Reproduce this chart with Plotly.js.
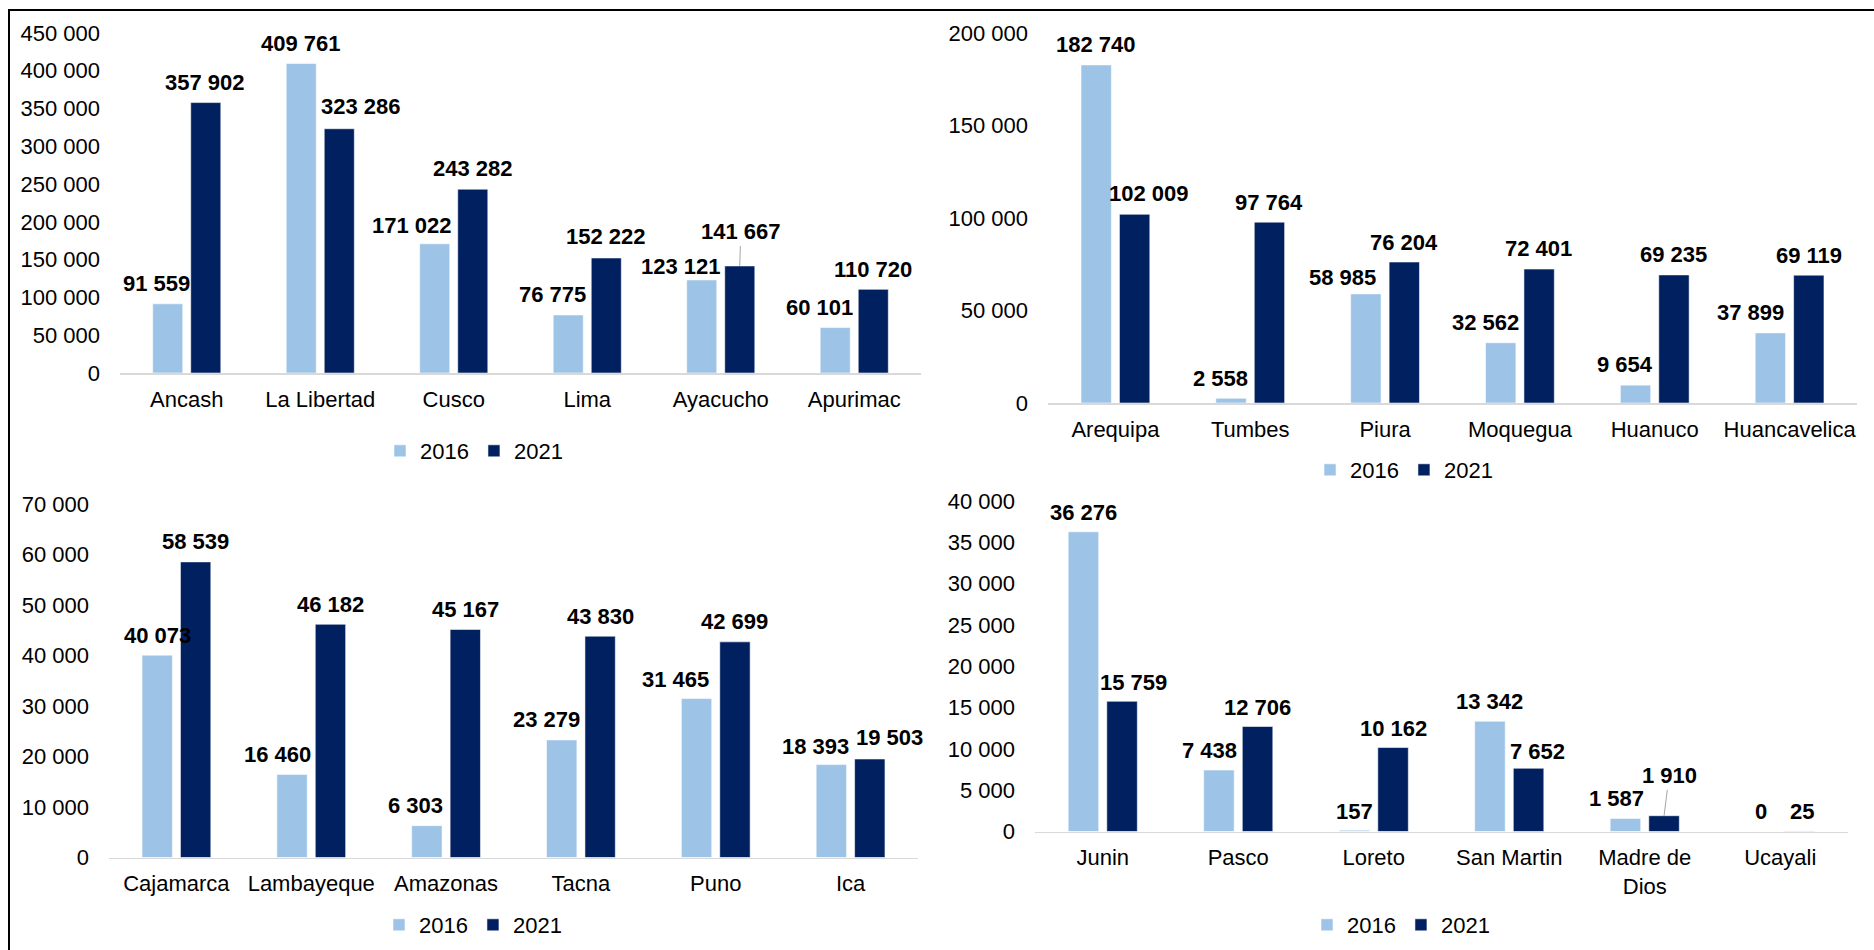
<!DOCTYPE html>
<html>
<head>
<meta charset="utf-8">
<script src="https://cdn.plot.ly/plotly-3.0.1.min.js"></script>
<style>
  html, body { margin: 0; padding: 0; background: #ffffff; }
  #chart { width: 1874px; height: 950px; }
</style>
</head>
<body>
<div id="chart"></div>
<script>
// Departments and values per panel (2016 vs 2021)
const regionsA = ['Ancash', 'La Libertad', 'Cusco', 'Lima', 'Ayacucho', 'Apurimac'];
const valuesA2016 = [91559, 409761, 171022, 76775, 123121, 60101];
const valuesA2021 = [357902, 323286, 243282, 152222, 141667, 110720];

const regionsB = ['Arequipa', 'Tumbes', 'Piura', 'Moquegua', 'Huanuco', 'Huancavelica'];
const valuesB2016 = [182740, 2558, 58985, 32562, 9654, 37899];
const valuesB2021 = [102009, 97764, 76204, 72401, 69235, 69119];

const regionsC = ['Cajamarca', 'Lambayeque', 'Amazonas', 'Tacna', 'Puno', 'Ica'];
const valuesC2016 = [40073, 16460, 6303, 23279, 31465, 18393];
const valuesC2021 = [58539, 46182, 45167, 43830, 42699, 19503];

const regionsD = ['Junin', 'Pasco', 'Loreto', 'San Martin', 'Madre de<br>Dios', 'Ucayali'];
const valuesD2016 = [36276, 7438, 157, 13342, 1587, 0];
const valuesD2021 = [15759, 12706, 10162, 7652, 1910, 25];

const seriesNames = ['2016', '2021'];

// Styling
const W = 1874, H = 950;
const COLOR_2016 = '#9DC3E6';
const COLOR_2021 = '#002060';
const FONT = 'Arial, "Liberation Sans", sans-serif';
const BAR_GAP = 0.43, GROUP_GAP = 0.21;
const SLOT = (1 - BAR_GAP) / 2;          // width of each series slot in category units
const HALF = SLOT / 2;                    // bar centre offset from category centre

// Label placement tweaks (pixels): horizontal nudge, and height of label centre above bar top
const labelStyle = {
  A: { dx16: [-11, 0, -23, -16, -21, -16], up16: [20, 20, 18, 20, 13, 20],
       dx21: [-1, 22, 0, 0, 1, 0],        up21: [20, 22, 21, 21, 34, 20], leader21: [4] },
  B: { dx16: [0, -11, -23, -15, -11, -20], up16: [20, 20, 16, 20, 21, 20],
       dx21: [14, 0, 0, -1, 0, 0],         up21: [21, 20, 20, 21, 20, 20], leader21: [] },
  C: { dx16: [0, -15, -11, -15, -21, -16], up16: [20, 20, 20, 20, 19, 18],
       dx21: [0, 0, 0, 0, 0, 20],          up21: [20, 20, 20, 20, 20, 22], leader21: [] },
  D: { dx16: [0, -9, 0, 0, -9, 0],         up16: [19, 20, 19, 20, 20, 20],
       dx21: [11, 0, 0, 9, 5, 2],          up21: [19, 19, 19, 17, 40, 20], leader21: [4] }
};

// Panel geometry in pixels: plot area left/right/top/bottom, legend centre
const panels = [
  { key: 'A', cats: regionsA, v16: valuesA2016, v21: valuesA2021, ax: '',
    box: [120, 921, 33, 373], range: [0, 450000], dtick: 50000, legend: [474, 451] },
  { key: 'B', cats: regionsB, v16: valuesB2016, v21: valuesB2021, ax: '2',
    box: [1048, 1857, 33, 403], range: [0, 200000], dtick: 50000, legend: [1404, 470] },
  { key: 'C', cats: regionsC, v16: valuesC2016, v21: valuesC2021, ax: '3',
    box: [109, 918, 504, 857.5], range: [0, 70000], dtick: 10000, legend: [473, 925] },
  { key: 'D', cats: regionsD, v16: valuesD2016, v21: valuesD2021, ax: '4',
    box: [1035, 1848, 501, 831.5], range: [0, 40000], dtick: 5000, legend: [1401, 925] }
];

function fmt(v) {
  return String(v).replace(/\B(?=(\d{3})+(?!\d))/g, ' ');
}

const traces = [];
const annotations = [];
const layout = {
  width: W, height: H,
  margin: { l: 0, r: 0, t: 0, b: 0 },
  paper_bgcolor: '#ffffff',
  plot_bgcolor: '#ffffff',
  font: { family: FONT, size: 22, color: '#000000' },
  separators: ', ',
  barmode: 'group',
  bargap: BAR_GAP,
  bargroupgap: GROUP_GAP,
  showlegend: true,
  hovermode: false,
  shapes: [
    // frame: top and left edges
    { type: 'line', xref: 'paper', yref: 'paper', x0: 8 / W, x1: 1, y0: 1 - 10 / H, y1: 1 - 10 / H,
      line: { color: '#000000', width: 2 } },
    { type: 'line', xref: 'paper', yref: 'paper', x0: 9 / W, x1: 9 / W, y0: 0, y1: 1 - 10 / H,
      line: { color: '#000000', width: 2 } }
  ],
  annotations: annotations
};

panels.forEach((p, idx) => {
  const xa = 'x' + p.ax, ya = 'y' + p.ax;
  const legendId = idx === 0 ? 'legend' : 'legend' + (idx + 1);
  const [l, r, t, b] = p.box;

  [p.v16, p.v21].forEach((vals, s) => {
    traces.push({
      type: 'bar',
      name: seriesNames[s],
      x: p.cats,
      y: vals,
      xaxis: xa, yaxis: ya,
      legend: legendId,
      marker: { color: s === 0 ? COLOR_2016 : COLOR_2021,
                line: { color: 'rgba(255,255,255,0.55)', width: 1 } },
      hoverinfo: 'skip'
    });
  });

  layout['xaxis' + p.ax] = {
    domain: [l / W, r / W],
    anchor: ya,
    type: 'category',
    categoryorder: 'array',
    categoryarray: p.cats,
    range: [-0.5, p.cats.length - 0.5],
    showline: true, linecolor: '#D9D9D9', linewidth: 1.5,
    showgrid: false, zeroline: false,
    ticks: '', ticklabelstandoff: 6,
    tickfont: { family: FONT, size: 22, color: '#000000' },
    fixedrange: true
  };
  layout['yaxis' + p.ax] = {
    domain: [1 - b / H, 1 - t / H],
    anchor: xa,
    range: p.range,
    dtick: p.dtick, tick0: 0,
    tickformat: ',d',
    showline: false, showgrid: false, zeroline: false,
    ticks: '', ticklabelstandoff: 19,
    tickfont: { family: FONT, size: 22, color: '#000000' },
    fixedrange: true
  };
  layout[legendId] = {
    orientation: 'h',
    x: p.legend[0] / W, y: 1 - p.legend[1] / H,
    xanchor: 'center', yanchor: 'middle',
    font: { family: FONT, size: 22, color: '#000000' },
    bgcolor: 'rgba(0,0,0,0)',
    itemwidth: 30,
    traceorder: 'normal'
  };

  // value labels
  const st = labelStyle[p.key];
  [p.v16, p.v21].forEach((vals, s) => {
    vals.forEach((v, i) => {
      const dx = s === 0 ? st.dx16[i] : st.dx21[i];
      const up = s === 0 ? st.up16[i] : st.up21[i];
      const xpos = i + (s === 0 ? -HALF : HALF);
      const leader = s === 1 && st.leader21.indexOf(i) >= 0;
      const ann = {
        xref: xa, yref: ya,
        x: xpos, y: v,
        text: '<b>' + fmt(v) + '</b>',
        font: { family: FONT, size: 22, color: '#000000' }
      };
      if (leader) {
        Object.assign(ann, {
          showarrow: true, arrowhead: 0, arrowwidth: 1, arrowcolor: '#A6A6A6',
          ax: dx, ay: -up, standoff: 0
        });
      } else {
        Object.assign(ann, {
          showarrow: false, xanchor: 'center', yanchor: 'middle',
          xshift: dx, yshift: up
        });
      }
      annotations.push(ann);
    });
  });
});

Plotly.newPlot('chart', traces, layout, { displayModeBar: false, staticPlot: true });
</script>
</body>
</html>
